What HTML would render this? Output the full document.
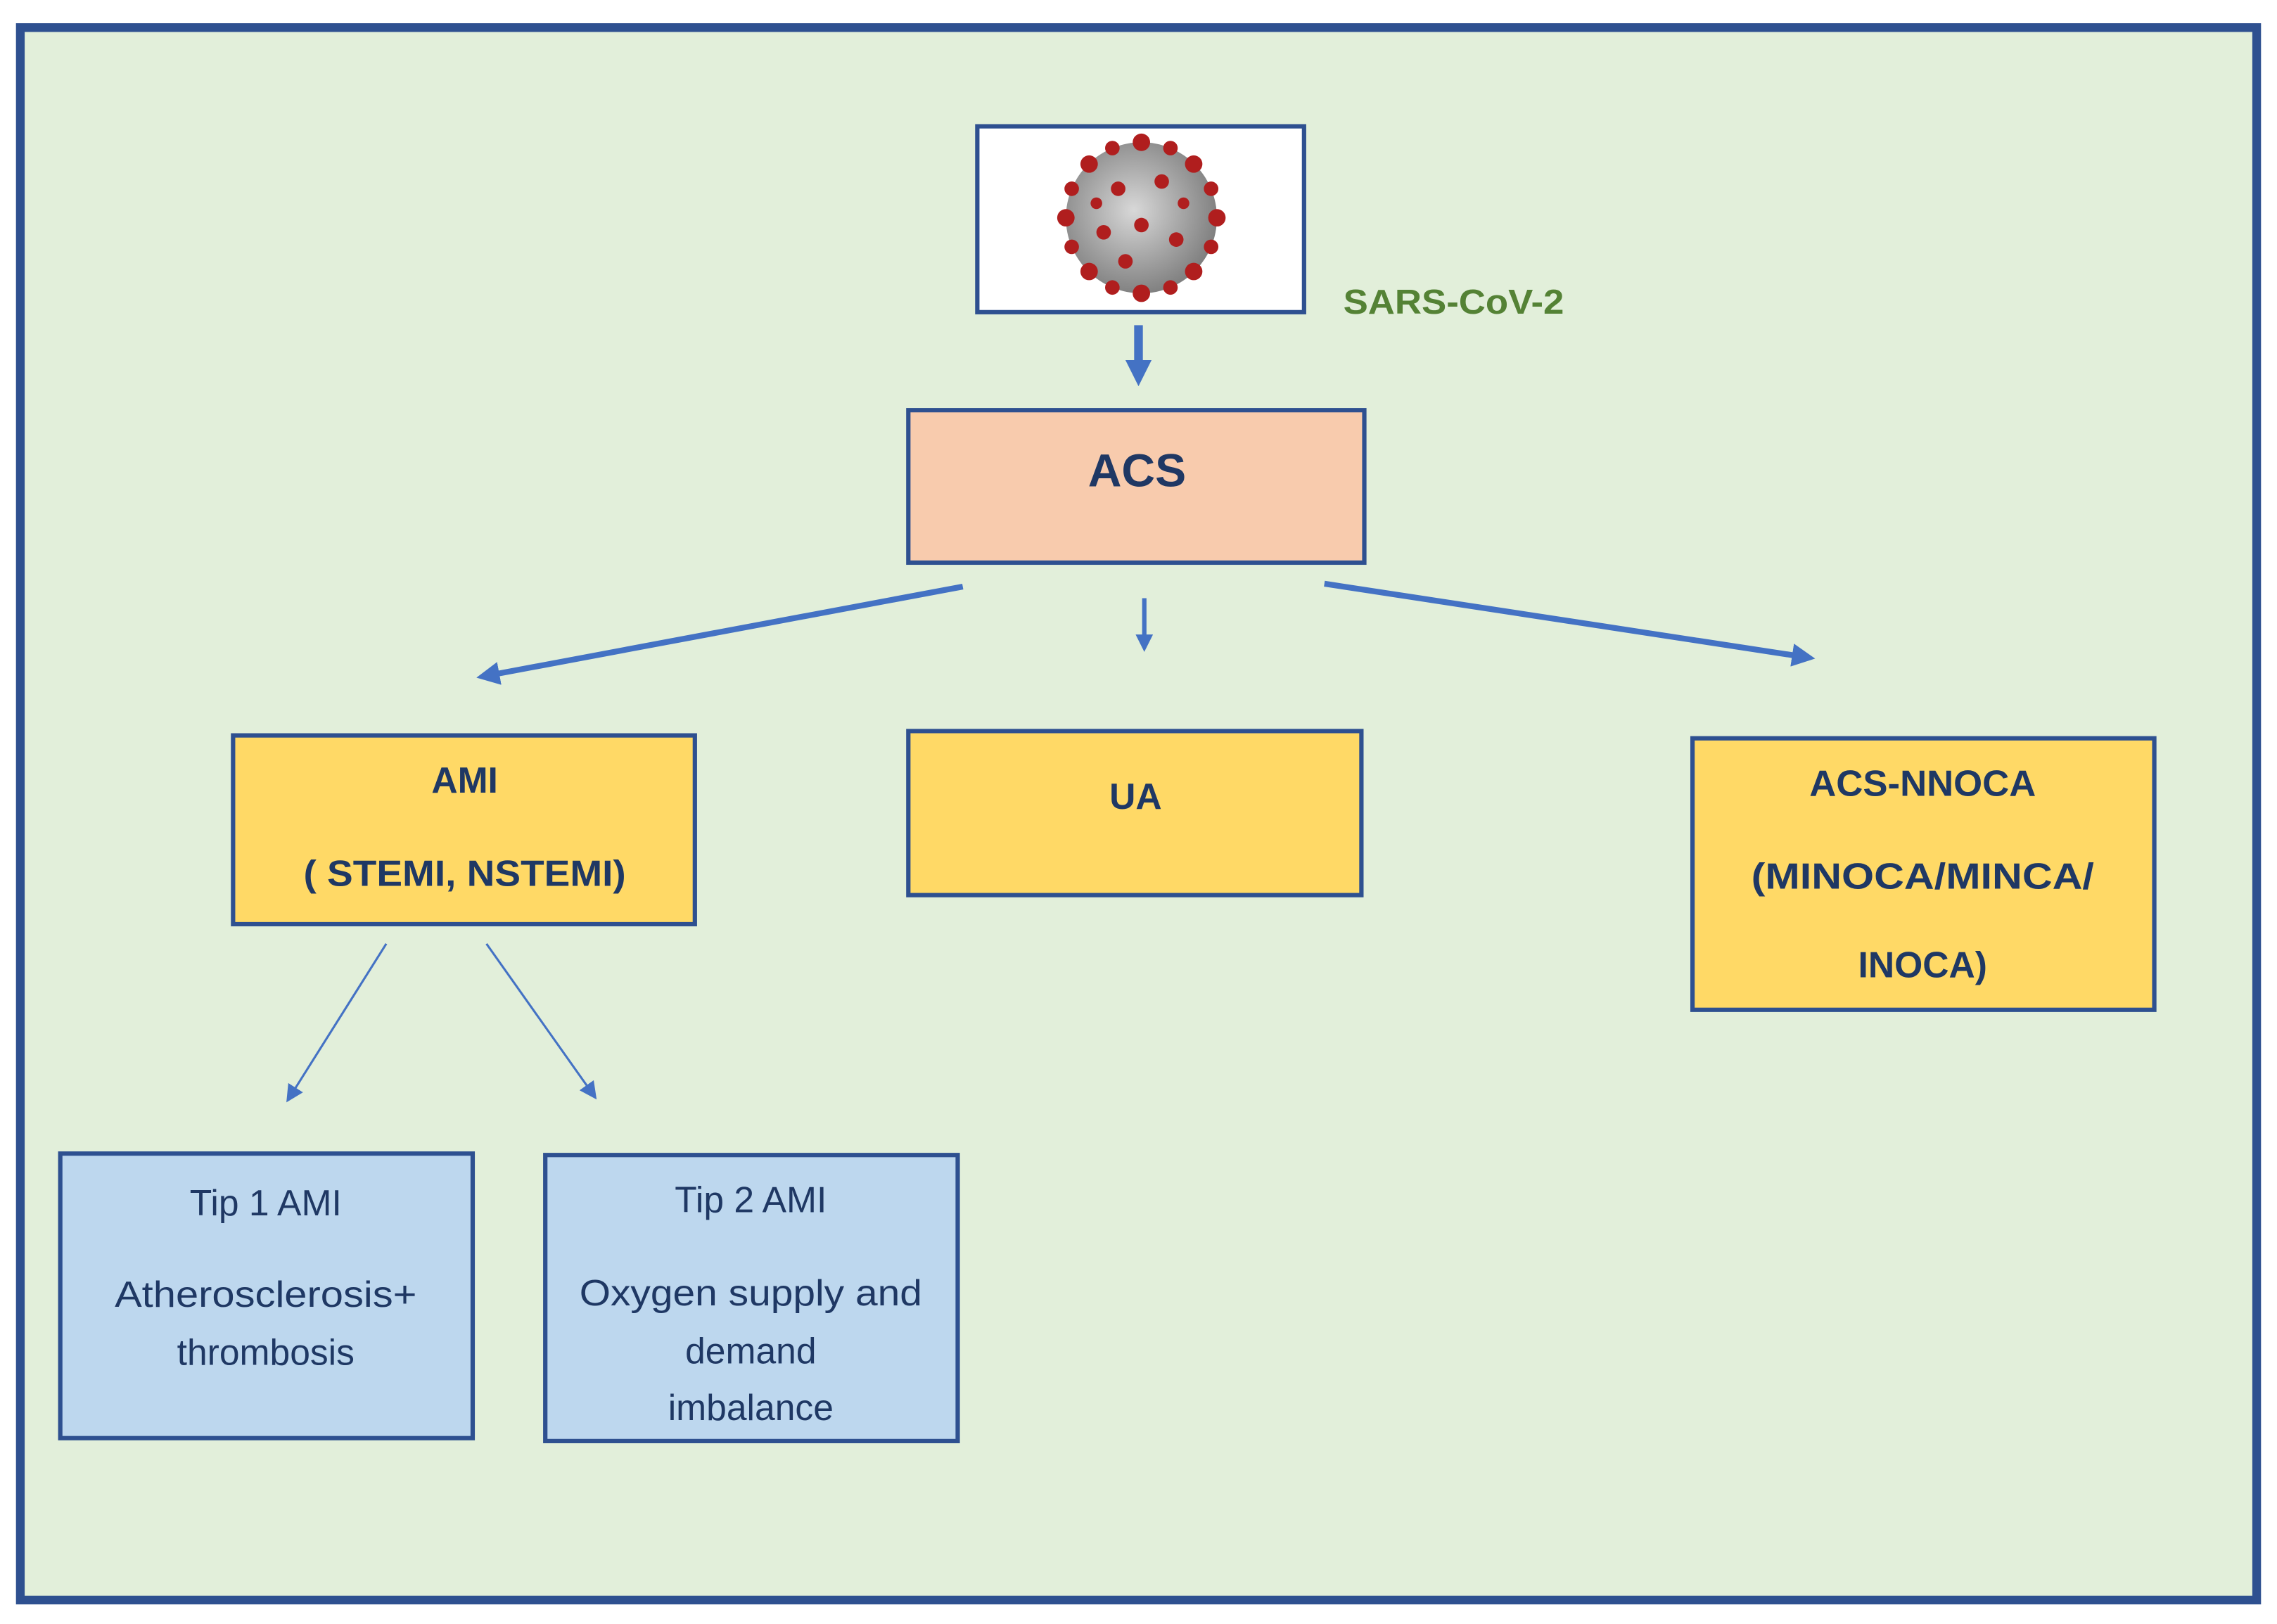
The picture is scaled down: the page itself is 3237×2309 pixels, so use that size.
<!DOCTYPE html>
<html><head><meta charset="utf-8"><style>html,body{margin:0;padding:0;background:#fff}svg{display:block}</style></head>
<body>
<svg width="3237" height="2309" viewBox="0 0 1568 1118.5" preserveAspectRatio="none" xmlns="http://www.w3.org/2000/svg" font-family="'Liberation Sans', sans-serif">
<defs>
<marker id="ah" markerWidth="4" markerHeight="4" refX="3" refY="2" orient="auto" markerUnits="strokeWidth"><path d="M0,0 L4,2 L0,4 z" fill="#4472c4"/></marker>
<marker id="ahs" markerWidth="3" markerHeight="3" refX="2" refY="1.5" orient="auto" markerUnits="strokeWidth"><path d="M0,0 L3,1.5 L0,3 z" fill="#4472c4"/></marker>
<marker id="ah2" markerWidth="8" markerHeight="8" refX="7" refY="4" orient="auto" markerUnits="strokeWidth"><path d="M0,0 L8,4 L0,8 z" fill="#4472c4"/></marker>
<radialGradient id="vg" cx="0.45" cy="0.45" r="0.6"><stop offset="0" stop-color="#d8d8d8"/><stop offset="1" stop-color="#7a7a7a"/></radialGradient>
</defs>
<rect x="14" y="19" width="1540" height="1083" fill="#e2efda" stroke="#2e5090" stroke-width="6"/>
<rect x="673" y="87" width="225" height="128" fill="#fff" stroke="#2e5090" stroke-width="3"/>
<circle cx="786" cy="150" r="52" fill="url(#vg)"/>
<g fill="#b01e1e">
<circle cx="786" cy="98" r="6"/><circle cx="786" cy="202" r="6"/><circle cx="734" cy="150" r="6"/><circle cx="838" cy="150" r="6"/>
<circle cx="750" cy="113" r="6"/><circle cx="822" cy="113" r="6"/><circle cx="750" cy="187" r="6"/><circle cx="822" cy="187" r="6"/>
<circle cx="766" cy="102" r="5"/><circle cx="806" cy="102" r="5"/><circle cx="766" cy="198" r="5"/><circle cx="806" cy="198" r="5"/>
<circle cx="738" cy="130" r="5"/><circle cx="834" cy="130" r="5"/><circle cx="738" cy="170" r="5"/><circle cx="834" cy="170" r="5"/>
<circle cx="770" cy="130" r="5"/><circle cx="800" cy="125" r="5"/><circle cx="786" cy="155" r="5"/><circle cx="760" cy="160" r="5"/><circle cx="810" cy="165" r="5"/><circle cx="775" cy="180" r="5"/><circle cx="815" cy="140" r="4"/><circle cx="755" cy="140" r="4"/>
</g>
<text x="925" y="216" font-size="24" font-weight="bold" fill="#548235" textLength="152" lengthAdjust="spacingAndGlyphs">SARS-CoV-2</text>
<line x1="784" y1="224" x2="784" y2="260" stroke="#4472c4" stroke-width="6" marker-end="url(#ahs)"/>
<rect x="625.5" y="282.5" width="314" height="105" fill="#f8cbad" stroke="#2e5090" stroke-width="3"/>
<text x="783" y="335" font-size="32" font-weight="bold" fill="#1f3864" text-anchor="middle">ACS</text>
<line x1="663" y1="404" x2="332" y2="466" stroke="#4472c4" stroke-width="4" marker-end="url(#ah)"/>
<line x1="788" y1="412" x2="788" y2="446" stroke="#4472c4" stroke-width="3" marker-end="url(#ah)"/>
<line x1="912" y1="402" x2="1246" y2="453" stroke="#4472c4" stroke-width="4" marker-end="url(#ah)"/>
<rect x="160.5" y="506.5" width="318" height="130" fill="#ffd966" stroke="#2e5090" stroke-width="3"/>
<g font-size="25" font-weight="bold" fill="#1f3864" text-anchor="middle">
<text x="320" y="546">AMI</text>
<text x="320" y="610" textLength="222" lengthAdjust="spacingAndGlyphs">( STEMI, NSTEMI)</text>
</g>
<rect x="625.5" y="503.5" width="312" height="113" fill="#ffd966" stroke="#2e5090" stroke-width="3"/>
<text x="782" y="557" font-size="25" font-weight="bold" fill="#1f3864" text-anchor="middle">UA</text>
<rect x="1165.5" y="508.5" width="318" height="187" fill="#ffd966" stroke="#2e5090" stroke-width="3"/>
<g font-size="25" font-weight="bold" fill="#1f3864" text-anchor="middle">
<text x="1324" y="548" textLength="156" lengthAdjust="spacingAndGlyphs">ACS-NNOCA</text>
<text x="1324" y="612" textLength="236" lengthAdjust="spacingAndGlyphs">(MINOCA/MINCA/</text>
<text x="1324" y="673">INOCA)</text>
</g>
<line x1="266" y1="650" x2="198" y2="758" stroke="#4472c4" stroke-width="1.5" marker-end="url(#ah2)"/>
<line x1="335" y1="650" x2="410" y2="756" stroke="#4472c4" stroke-width="1.5" marker-end="url(#ah2)"/>
<rect x="41.5" y="794.5" width="284" height="196" fill="#bdd7ee" stroke="#2e5090" stroke-width="3"/>
<g font-size="25" fill="#1f3864" text-anchor="middle">
<text x="183" y="837">Tip 1 AMI</text>
<text x="183" y="900" textLength="208" lengthAdjust="spacingAndGlyphs">Atherosclerosis+</text>
<text x="183" y="940">thrombosis</text>
</g>
<rect x="375.5" y="795.5" width="284" height="197" fill="#bdd7ee" stroke="#2e5090" stroke-width="3"/>
<g font-size="25" fill="#1f3864" text-anchor="middle">
<text x="517" y="835">Tip 2 AMI</text>
<text x="517" y="899" textLength="236" lengthAdjust="spacingAndGlyphs">Oxygen supply and</text>
<text x="517" y="939">demand</text>
<text x="517" y="978">imbalance</text>
</g>
</svg>
</body></html>
